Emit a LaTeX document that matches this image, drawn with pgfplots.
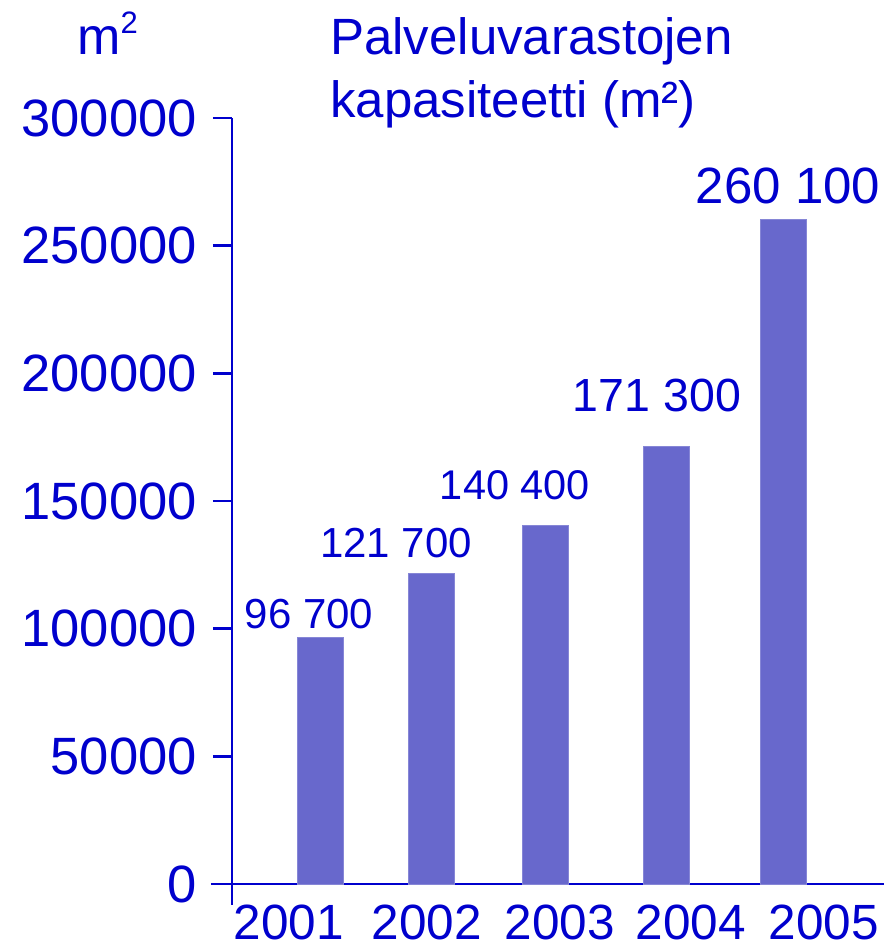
\documentclass[border=0pt]{standalone}
\usepackage{fontspec}
\setmainfont{Liberation Sans}
\usepackage{pgfplots}
\pgfplotsset{compat=1.18}
\definecolor{txtblue}{RGB}{0,0,205}
\definecolor{barblue}{RGB}{104,104,204}
\begin{document}
\begin{tikzpicture}
\useasboundingbox (0,0) rectangle (888pt,946pt);
\begin{axis}[
  at={(232pt,62pt)}, anchor=south west,
  scale only axis, width=652pt, height=766pt,
  xmin=0, xmax=652, ymin=0, ymax=300000,
  axis lines=left,
  axis line style={-, line width=2.8pt, color=txtblue, shorten <=-21pt},
  xtick={57,195,328,459,592},
  xticklabels={2001,2002,2003,2004,2005},
  x tick style={draw=none},
  x tick label style={anchor=base, inner sep=0pt, yshift=-36pt, font=\fontsize{49.5}{56}\selectfont, text=txtblue},
  scaled y ticks=false,
  ytick={0,50000,100000,150000,200000,250000,300000},
  yticklabels={0,50000,100000,150000,200000,250000,300000},
  y tick label style={anchor=east, inner sep=0pt, xshift=-16pt, font=\fontsize{52.5}{60}\selectfont, text=txtblue},
  tick align=outside,
  major tick length=19pt,
  y tick style={line width=2.8pt, color=txtblue},
  clip=false,
]
\addplot[ybar, bar width=46pt, fill=barblue, draw=barblue!80!white, line width=0.8pt] coordinates {
  (88,96700) (199,121700) (313,140400) (434,171300) (551,260100)};
\node[anchor=base, inner sep=0pt, text=txtblue, font=\fontsize{42}{50}\selectfont] at (axis cs:77,99900) {96 700};
\node[anchor=base, inner sep=0pt, text=txtblue, font=\fontsize{42}{50}\selectfont] at (axis cs:164,127700) {121 700};
\node[anchor=base, inner sep=0pt, text=txtblue, font=\fontsize{41.5}{50}\selectfont] at (axis cs:283,150400) {140 400};
\node[anchor=base, inner sep=0pt, text=txtblue, font=\fontsize{46.5}{55}\selectfont] at (axis cs:425,184900) {171 300};
\node[anchor=base, inner sep=0pt, text=txtblue, font=\fontsize{51}{60}\selectfont] at (axis cs:556,266700) {260 100};
\end{axis}
\node[anchor=base west, inner sep=0pt, text=txtblue, font=\fontsize{52}{60}\selectfont] at (77pt,891pt) {m\raisebox{21pt}{\fontsize{31}{32}\selectfont 2}};
\node[anchor=base west, inner sep=0pt, text=txtblue, font=\fontsize{51}{60}\selectfont] at (330pt,891pt) {Palveluvarastojen};
\node[anchor=base west, inner sep=0pt, text=txtblue, font=\fontsize{51}{60}\selectfont] at (330pt,828pt) {kapasiteetti (m²)};
\end{tikzpicture}
\end{document}
